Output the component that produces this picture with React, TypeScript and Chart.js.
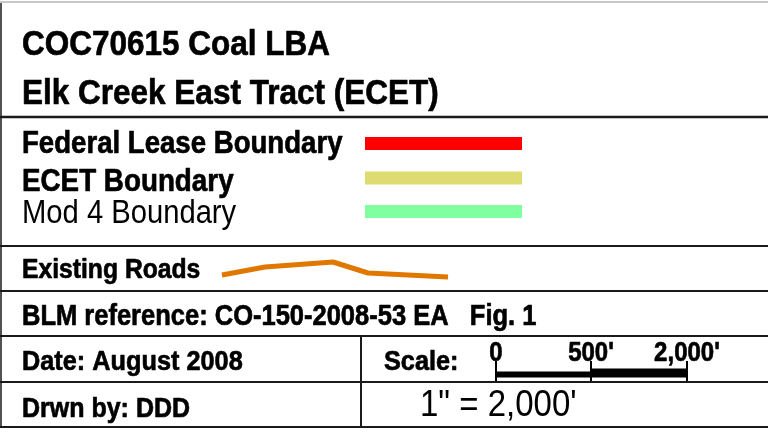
import React, { useEffect, useRef } from "react";
import { Chart, registerables } from "chart.js";

Chart.register(...registerables);

// ---- content ----
const titleLines = ["COC70615 Coal LBA", "Elk Creek East Tract (ECET)"];
const boundaryLabels = ["Federal Lease Boundary", "ECET Boundary", "Mod 4 Boundary"];
const roadLabel = "Existing Roads";
const roadPathX = [222, 265, 333, 368, 448];
const roadPathY = [275, 267, 262, 273, 277];
const referenceText = "BLM reference: CO-150-2008-53 EA   Fig. 1";
const dateText = "Date: August 2008";
const drawnText = "Drwn by: DDD";
const scaleLabel = "Scale:";
const scaleTickLabels = ["0", "500'", "2,000'"];
const scaleRatioText = "1\" = 2,000'";

// ---- layout & style ----
const W = 768;
const H = 433;
const FONT = '"Liberation Sans", Arial, Helvetica, sans-serif';
const TEXT_STRETCH = 1.12;
const boundaryColors = ["#ff0000", "#dedc70", "#80ffa0"];
const boundaryY = [143.5, 178, 211.5];
const swatchX = [365, 522];
const rowLinesY = [117, 246, 291, 336, 382, 427];
const rowLineWidths = [2.5, 2, 2, 2, 2, 2];
const dividerX = 361;
const scaleTickX = [496, 591, 687];
const LINE = "#1a1a1a";

type Pt = { x: number; y: number };

function seg(points: Pt[], color: string, width: number, extra: any = {}) {
  return {
    data: points,
    showLine: true,
    borderColor: color,
    backgroundColor: color,
    borderWidth: width,
    pointRadius: 0,
    pointHoverRadius: 0,
    fill: false,
    tension: 0,
    borderCapStyle: "butt",
    borderJoinStyle: "miter",
    clip: false,
    ...extra,
  };
}

const textPlugin = {
  id: "legendTexts",
  beforeDraw(chart: any) {
    const { ctx } = chart;
    ctx.save();
    ctx.fillStyle = "#ffffff";
    ctx.fillRect(0, 0, chart.width, chart.height);
    ctx.restore();
  },
  afterDatasetsDraw(chart: any) {
    const { ctx } = chart;
    const xs = chart.scales.x;
    const ys = chart.scales.y;
    const px = (v: number) => xs.getPixelForValue(v);
    const py = (v: number) => ys.getPixelForValue(v);
    const put = (
      t: string,
      x: number,
      y: number,
      size: number,
      bold: boolean,
      align: CanvasTextAlign = "left"
    ) => {
      ctx.save();
      ctx.translate(px(x), py(y));
      ctx.scale(1, TEXT_STRETCH);
      ctx.font = `${bold ? "bold " : ""}${size}px ${FONT}`;
      ctx.textAlign = align;
      ctx.textBaseline = "alphabetic";
      ctx.fillStyle = "#000000";
      ctx.fillText(t, 0, 0);
      if (bold) {
        ctx.strokeStyle = "#000000";
        ctx.lineWidth = 0.6;
        ctx.lineJoin = "round";
        ctx.strokeText(t, 0, 0);
      }
      ctx.restore();
    };
    put(titleLines[0], 22, 55, 31.5, true);
    put(titleLines[1], 22, 104, 31.5, true);
    put(boundaryLabels[0], 22, 153, 27.6, true);
    put(boundaryLabels[1], 22, 191, 27.8, true);
    put(boundaryLabels[2], 22, 223, 29.2, false);
    put(roadLabel, 22, 278, 24.7, true);
    put(referenceText, 22, 325, 25.5, true);
    put(dateText, 22, 370, 25.3, true);
    put(drawnText, 22, 417, 25, true);
    put(scaleLabel, 384, 370, 25.3, true);
    put(scaleRatioText, 420, 416, 33, false);
    scaleTickLabels.forEach((t, i) => put(t, scaleTickX[i], 361, 24, true, "center"));
  },
};

export default function App() {
  const ref = useRef<HTMLCanvasElement | null>(null);

  useEffect(() => {
    if (!ref.current) return;
    const datasets: any[] = [];
    // top gray rule and left border
    datasets.push(seg([{ x: 0, y: 2 }, { x: W, y: 2 }], "#c8c8c8", 2));
    datasets.push(seg([{ x: 1, y: 2 }, { x: 1, y: 427 }], LINE, 1.5));
    rowLinesY.forEach((y, i) => datasets.push(seg([{ x: 0, y }, { x: W, y }], LINE, rowLineWidths[i])));
    datasets.push(seg([{ x: dividerX, y: 336 }, { x: dividerX, y: 427 }], LINE, 2));
    // boundary swatches
    boundaryLabels.forEach((_, i) =>
      datasets.push(
        seg([{ x: swatchX[0], y: boundaryY[i] }, { x: swatchX[1], y: boundaryY[i] }], boundaryColors[i], 13)
      )
    );
    // road sample
    datasets.push(seg(roadPathX.map((x, i) => ({ x, y: roadPathY[i] })), "#e07800", 5, { borderJoinStyle: "round" }));
    // scale bar
    datasets.push(seg([{ x: scaleTickX[0], y: 374.5 }, { x: scaleTickX[1], y: 374.5 }], "#000000", 6));
    datasets.push(seg([{ x: scaleTickX[1], y: 373 }, { x: scaleTickX[2], y: 373 }], "#000000", 9));
    scaleTickX.forEach((x) => datasets.push(seg([{ x, y: 361 }, { x, y: 381 }], "#000000", 2)));

    const chart = new Chart(ref.current, {
      type: "scatter",
      data: { datasets },
      options: {
        animation: false,
        responsive: false,
        devicePixelRatio: 1,
        events: [],
        layout: { padding: 0 },
        plugins: { legend: { display: false }, tooltip: { enabled: false }, title: { display: false } },
        scales: {
          x: { type: "linear", min: 0, max: W, display: false },
          y: { type: "linear", min: 0, max: H, reverse: true, display: false },
        },
      },
      plugins: [textPlugin],
    } as any);
    return () => chart.destroy();
  }, []);

  return (
    <div style={{ position: "fixed", left: 0, top: 0, width: W, height: H, background: "#fff" }}>
      <canvas ref={ref} width={W} height={H} style={{ display: "block", width: W, height: H }} />
    </div>
  );
}
